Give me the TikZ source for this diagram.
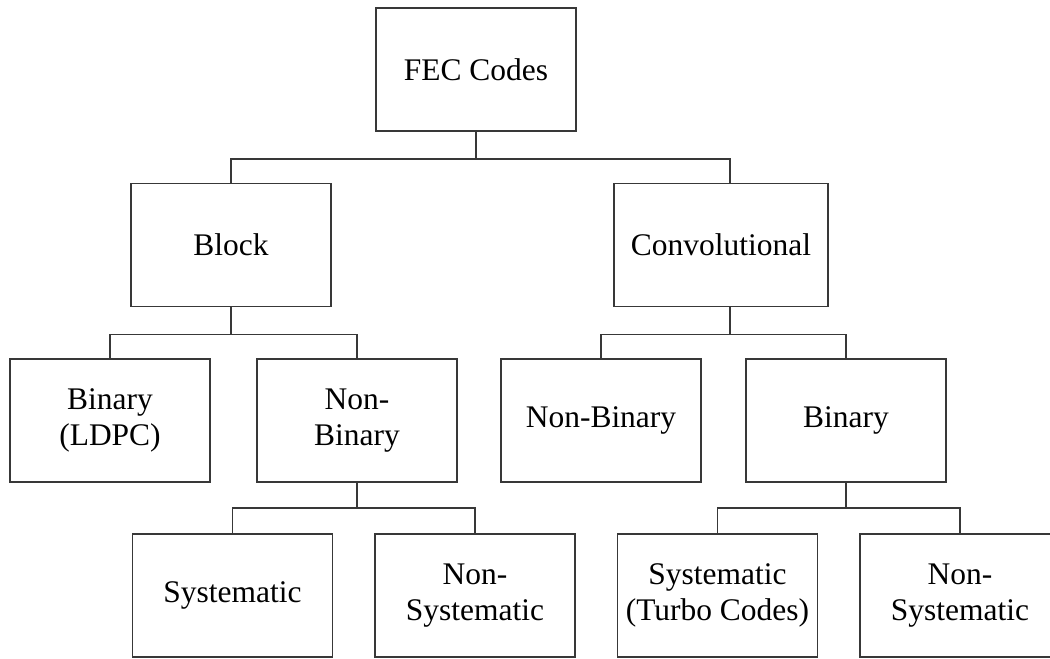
\documentclass[tikz,border=0pt]{standalone}
\usepackage{fontspec}
\setmainfont{Liberation Serif}
\begin{document}
\begin{tikzpicture}[x=0.75pt,y=-0.75pt,
  box/.style={draw=black!78,line width=1.3pt,rectangle,minimum width=150pt,minimum height=92.25pt,
    inner sep=0pt,align=center,font=\fontsize{23.6}{27.5}\selectfont},
  link/.style={draw=black!78,line width=1.3pt}]
\useasboundingbox (0,0) rectangle (1050,658);
\node[box] (fec) at (476,69.5) {FEC Codes};
\node[box] (block) at (231,245) {Block};
\node[box,minimum width=160.5pt] (conv) at (721,245) {Convolutional};
\node[box] (ldpc) at (110,420.5) {Binary\\(LDPC)};
\node[box] (nbin) at (357,420.5) {Non-\\Binary};
\node[box] (cnbin) at (601,420.5) {Non-Binary};
\node[box] (cbin) at (846,420.5) {Binary};
\node[box] (sys) at (232.5,595.5) {Systematic};
\node[box] (nsys) at (475,595.5) {Non-\\Systematic};
\node[box] (turbo) at (717.5,595.5) {Systematic\\(Turbo Codes)};
\node[box] (cnsys) at (960,595.5) {Non-\\Systematic};
% level 1
\draw[link] (fec.south) -- ++(0,27) -| (block.north);
\draw[link] (fec.south) ++(0,27) -| ([xshift=6.75pt]conv.north);
% level 2
\draw[link] (block.south) -- ++(0,27) -| (ldpc.north);
\draw[link] (block.south) ++(0,27) -| (nbin.north);
\draw[link] ([xshift=6.75pt]conv.south) -- ++(0,27) -| (cnbin.north);
\draw[link] ([xshift=6.75pt]conv.south) ++(0,27) -| (cbin.north);
% level 3
\draw[link] (nbin.south) -- ++(0,25) -| (sys.north);
\draw[link] (nbin.south) ++(0,25) -| (nsys.north);
\draw[link] (cbin.south) -- ++(0,25) -| (turbo.north);
\draw[link] (cbin.south) ++(0,25) -| (cnsys.north);
\end{tikzpicture}
\end{document}
